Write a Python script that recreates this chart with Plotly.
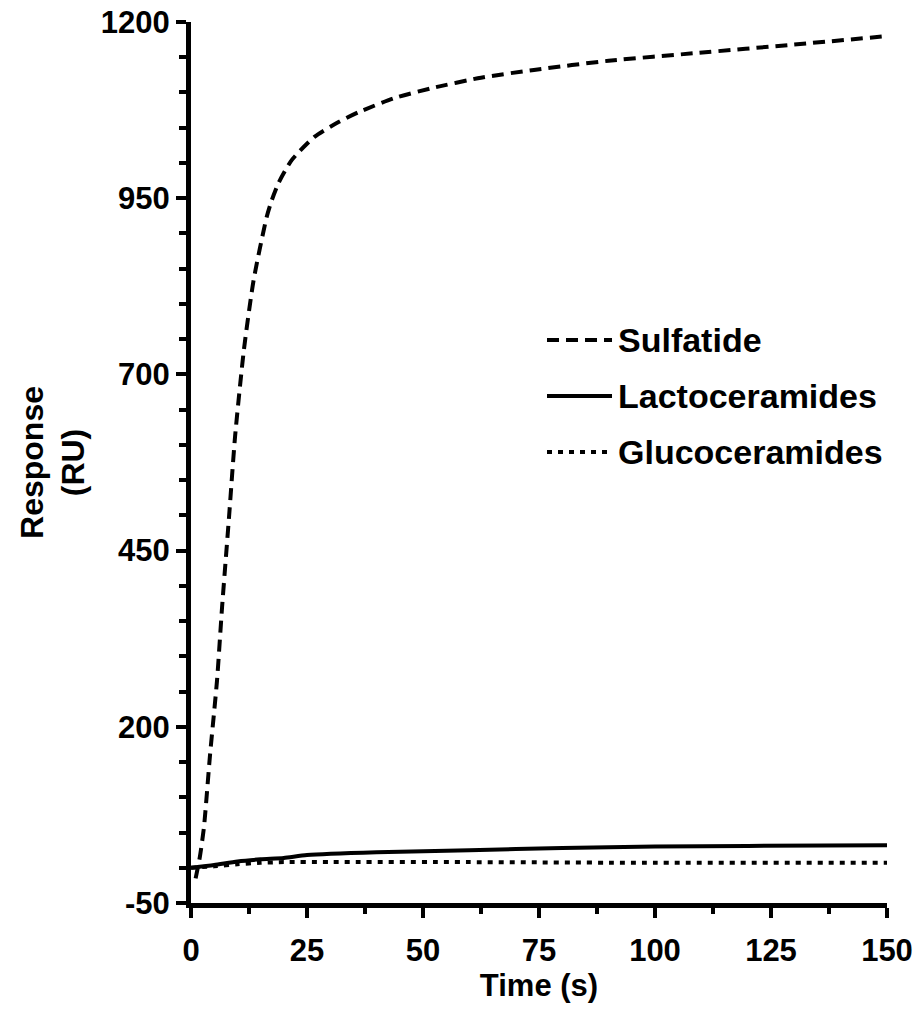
import plotly.graph_objects as go

# Sensorgram traces: response (RU) versus time (s)
sulfatide_t = [1.0, 1.9, 2.8, 4.1, 5.6, 6.7, 8.2, 9.5, 11.4, 13.5, 16.3, 17.4, 18.9,
               21.7, 26.6, 31.8, 36.1, 43.8, 51.8, 62.5, 73.9, 90, 109, 130, 150]
sulfatide_ru = [-15, 15, 58, 160, 265, 370, 498, 612, 735, 834, 923, 947, 972,
                1004, 1037, 1058, 1072, 1092, 1106, 1121, 1132, 1145, 1156, 1168, 1180]

lacto_t = [0, 5, 10, 15, 20, 25, 40, 60, 80, 100, 120, 150]
lacto_ru = [0, 4, 9, 12, 14, 18, 22, 25, 28, 30, 31, 32]

gluco_t = [0, 5, 10, 15, 20, 30, 60, 100, 150]
gluco_ru = [0, 2, 5, 7, 8, 8, 8, 7, 7]

series_names = ["Sulfatide", "Lactoceramides", "Glucoceramides"]
x_ticks = [0, 25, 50, 75, 100, 125, 150]
y_ticks = [-50, 200, 450, 700, 950, 1200]

FONT = "Liberation Sans, Arial, Helvetica, sans-serif"
dash_styles = ["12px,7px", "solid", "5px,6px"]
line_widths = [4, 4, 4]

fig = go.Figure()
for name, t, v, dash, w in zip(series_names,
                               [sulfatide_t, lacto_t, gluco_t],
                               [sulfatide_ru, lacto_ru, gluco_ru],
                               dash_styles, line_widths):
    fig.add_trace(go.Scatter(
        x=t, y=v, mode="lines", name=name, showlegend=False,
        line=dict(color="black", width=w, dash=dash, shape="spline", smoothing=0.6),
    ))

# Key drawn beside the curves: sample line plus bold label per series
key_y = [0.639, 0.5755, 0.512]
for name, dash, yk in zip(series_names, dash_styles, key_y):
    fig.add_shape(type="line", xref="paper", yref="paper",
                  x0=0.5115, x1=0.6049, y0=yk, y1=yk,
                  line=dict(color="black", width=4, dash=dash))
    fig.add_annotation(xref="paper", yref="paper", x=0.611, y=yk,
                       text=name, showarrow=False, xanchor="left", yanchor="middle",
                       font=dict(family=FONT, size=34, color="black", weight="bold"))

axis_common = dict(
    showline=True, linecolor="black", linewidth=5,
    ticks="outside", ticklen=10, tickwidth=4, tickcolor="black",
    showgrid=False, zeroline=False, automargin=False,
    tickfont=dict(family=FONT, size=31, color="black", weight="bold"),
)

fig.update_xaxes(
    range=[0, 150], tickvals=x_ticks, ticktext=[str(v) for v in x_ticks],
    minor=dict(dtick=12.5, tick0=0, ticks="outside", ticklen=6, tickwidth=4,
               tickcolor="black", showgrid=False),
    ticklabelstandoff=6,
    title=dict(text="Time (s)", standoff=8,
               font=dict(family=FONT, size=31, color="black", weight="bold")),
    **axis_common,
)
fig.update_yaxes(
    range=[-50, 1200], tickvals=y_ticks, ticktext=[str(v) for v in y_ticks],
    minor=dict(dtick=50, tick0=-50, ticks="outside", ticklen=7, tickwidth=4,
               tickcolor="black", showgrid=False),
    title=dict(text="Response<br>(RU)", standoff=8,
               font=dict(family=FONT, size=32, color="black", weight="bold")),
    **axis_common,
)

fig.update_layout(
    width=920, height=1014,
    margin=dict(l=191, r=33, t=22, b=111),
    plot_bgcolor="white", paper_bgcolor="white",
    showlegend=False,
)

fig.write_html("out.html")
